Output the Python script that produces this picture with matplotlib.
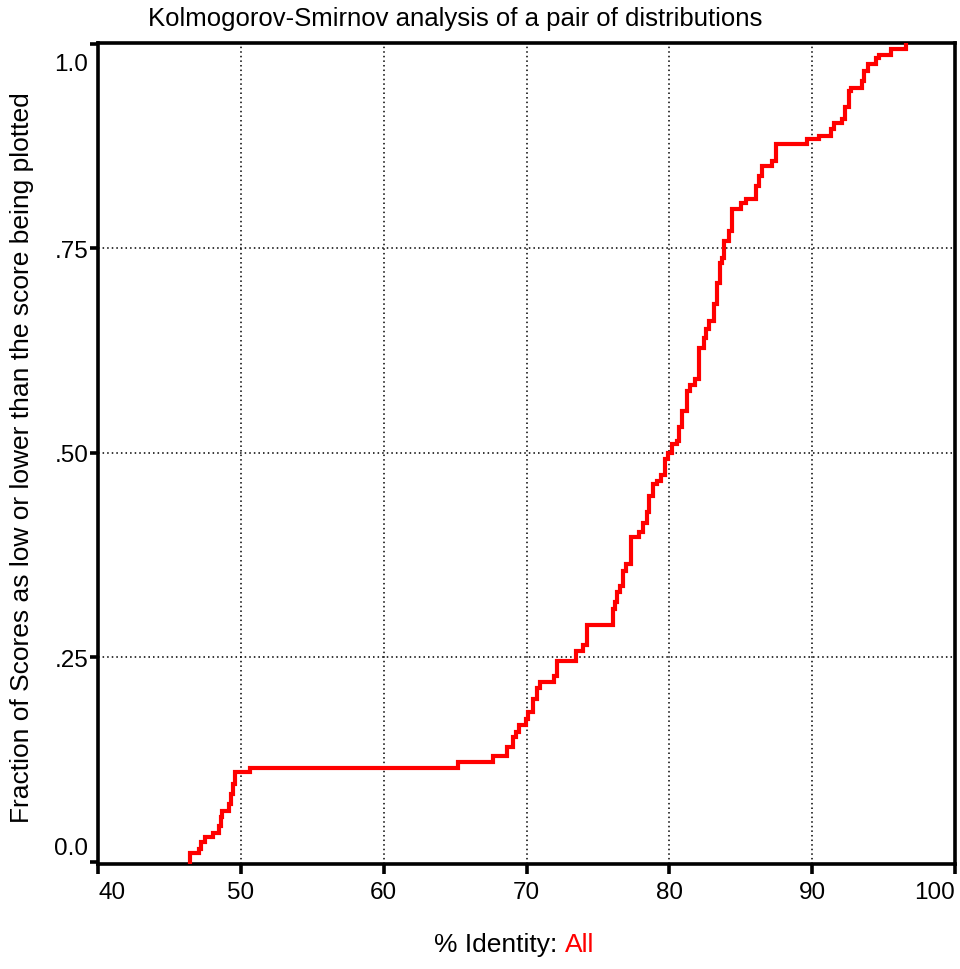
import matplotlib
matplotlib.use("Agg")
import matplotlib.pyplot as plt
import matplotlib.transforms as mtransforms

plt.rcParams['font.family'] = ['Liberation Sans', 'DejaVu Sans']

# Step positions (% identity) and cumulative fraction after each step
step_x = [46.46, 46.46, 47.07, 47.2, 47.47, 48.05, 48.47, 48.6, 48.7, 49.2, 49.3, 49.45, 49.57, 50.62,
          65.2, 67.64, 68.6, 69.05, 69.28, 69.5, 69.98, 70.14, 70.45, 70.73, 70.96, 71.9, 72.13,
          73.49, 73.96, 74.24, 76.06, 76.22, 76.34, 76.57, 76.76, 76.99, 77.32, 77.9, 78.16, 78.45,
          78.56, 78.86, 79.14, 79.45, 79.73, 79.89, 80.2, 80.55, 80.66, 80.9, 81.25, 81.43, 81.83,
          82.06, 82.41, 82.6, 82.76, 83.11, 83.35, 83.53, 83.7, 83.82, 84.17, 84.4, 84.99, 85.34,
          86.04, 86.27, 86.51, 87.21, 87.44, 89.66, 90.48, 91.3, 91.53, 92.12, 92.28, 92.58, 92.75,
          93.52, 93.63, 93.94, 94.45, 94.68, 95.5, 96.56]
step_y = [0.0, 0.0104, 0.0153, 0.0235, 0.0296, 0.0348, 0.043, 0.055, 0.062, 0.070, 0.0825, 0.0947, 0.109, 0.114,
          0.1213, 0.1286, 0.1396, 0.1518, 0.1587, 0.1669, 0.1742, 0.1824, 0.1987, 0.2117, 0.2191, 0.2264, 0.2455,
          0.2577, 0.2647, 0.2891, 0.3087, 0.3169, 0.3291, 0.3364, 0.3555, 0.3637, 0.3963, 0.4024, 0.4138, 0.4269,
          0.4465, 0.4615, 0.4655, 0.4725, 0.4921, 0.5002, 0.5104, 0.5144, 0.5308, 0.5511, 0.5756, 0.5825, 0.5907,
          0.6286, 0.6408, 0.651, 0.6611, 0.6815, 0.708, 0.7325, 0.7386, 0.759, 0.7711, 0.7977, 0.8059, 0.8099,
          0.8262, 0.8384, 0.8506, 0.8567, 0.8772, 0.8833, 0.8873, 0.8955, 0.9036, 0.9077, 0.9233, 0.9423, 0.9464,
          0.9545, 0.9668, 0.9749, 0.983, 0.9859, 0.9933, 1.0]

x_ticks = [40, 50, 60, 70, 80, 90, 100]
x_tick_labels = ['40', '50', '60', '70', '80', '90', '100']
y_ticks = [0.0, 0.25, 0.5, 0.75, 1.0]
y_tick_labels = ['0.0', '.25', '.50', '.75', '1.0']

fig = plt.figure(figsize=(9.6, 9.7), dpi=100)
ax = fig.add_axes([98/960, 1-865/970, (955-98)/960, (865-44)/970])

ax.step(step_x, step_y, where='post', color='#ff0000', lw=3.0, solid_joinstyle='miter', zorder=3)

ax.set_xlim(40, 100)
ax.set_ylim(-0.003, 1.001)

ax.set_xticks(x_ticks)
ax.set_xticklabels(x_tick_labels, fontsize=17.5)
ax.set_yticks(y_ticks)
ax.set_yticklabels(y_tick_labels, fontsize=17.5)

for s in ax.spines.values():
    s.set_linewidth(2.6)
    s.set_color('black')

ax.tick_params(axis='x', direction='out', length=7, width=2.6, pad=5)
ax.tick_params(axis='y', direction='out', length=6, width=2.6, pad=1)

# grid only at interior ticks
for xv in x_ticks[1:-1]:
    ax.axvline(xv, color='black', lw=1.1, ls=(0, (1, 2)), zorder=1)
for yv in y_ticks[1:-1]:
    ax.axhline(yv, color='black', lw=1.1, ls=(0, (1, 2)), zorder=1)

# end labels pulled inward
xl = ax.get_xticklabels()
xl[0].set_horizontalalignment('left')
xl[-1].set_horizontalalignment('right')
yl = ax.get_yticklabels()
yl[0].set_transform(yl[0].get_transform() + mtransforms.ScaledTranslation(0, 16/100, fig.dpi_scale_trans))
yl[-1].set_transform(yl[-1].get_transform() + mtransforms.ScaledTranslation(0, -18/100, fig.dpi_scale_trans))

fig.text(148/960, 1-19/970, 'Kolmogorov-Smirnov analysis of a pair of distributions',
         fontsize=18.5, ha='left', va='center')

fig.text(22/960, 1-458/970, 'Fraction of Scores as low or lower than the score being plotted',
         fontsize=19, rotation=90, ha='center', va='center')

t1 = fig.text(434/960, 1-945/970, '% Identity: ', fontsize=19, ha='left', va='center')
fig.canvas.draw()
bb = t1.get_window_extent()
fig.text(bb.x1/960, 1-945/970, 'All', fontsize=19, ha='left', va='center', color='#ff0000')

fig.savefig('out.png', dpi=100)
